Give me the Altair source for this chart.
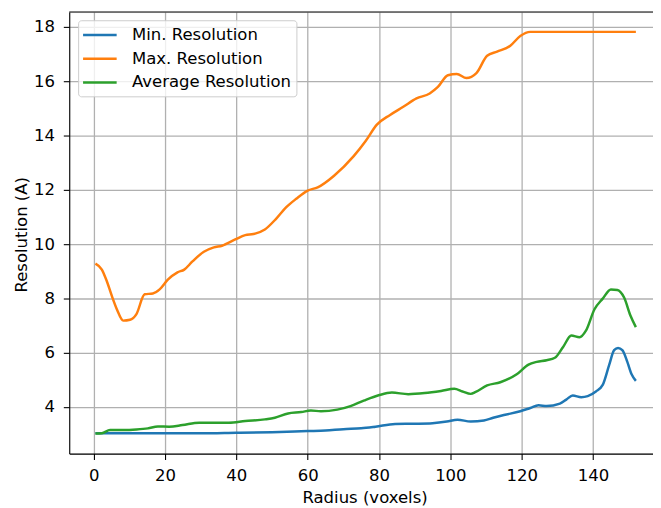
import altair as alt
import pandas as pd

# ---- data ----
series_names = ["Min. Resolution", "Max. Resolution", "Average Resolution"]
series_colors = ["#1f77b4", "#ff7f0e", "#2ca02c"]

min_x = [0.5, 10, 20, 30, 40, 50, 60, 65, 70, 75, 79, 84.5, 90, 95, 99, 102, 105.7, 109.4,
         112, 115, 119.6, 122.4, 124.7, 127, 130.7, 132.5, 134.3, 136.7, 138.5, 140.8, 142.7,
         144.5, 145.9, 147.0, 148.2, 149.6, 150.8, 152]
min_y = [3.03, 3.03, 3.03, 3.03, 3.05, 3.07, 3.11, 3.13, 3.18, 3.21, 3.27, 3.37, 3.38, 3.40,
         3.46, 3.53, 3.46, 3.50, 3.60, 3.70, 3.84, 3.96, 4.06, 4.03, 4.12, 4.27, 4.42, 4.36,
         4.40, 4.57, 4.81, 5.54, 6.09, 6.17, 6.09, 5.66, 5.20, 4.96]

max_x = [0.5, 2.3, 3.7, 5.1, 6.5, 8.3, 10.2, 12.0, 14.3, 16.6, 18.5, 20.8, 23.5, 25.4, 27.7,
         30.9, 33.7, 36.0, 39.7, 42.5, 44.8, 48.0, 51.2, 54.0, 56.8, 60.0, 62.8, 67.4, 72.9,
         76.2, 79.4, 83.1, 86.8, 90.5, 94.2, 96.5, 99.3, 101.8, 104.5, 107.3, 110.3, 113.1,
         116.8, 119.6, 122.4, 125, 152]
max_y = [9.28, 9.06, 8.63, 8.09, 7.6, 7.18, 7.21, 7.42, 8.15, 8.18, 8.33, 8.69, 8.96, 9.06,
         9.36, 9.72, 9.88, 9.94, 10.17, 10.33, 10.37, 10.54, 10.94, 11.36, 11.67, 11.97, 12.09,
         12.52, 13.24, 13.79, 14.40, 14.76, 15.06, 15.37, 15.55, 15.79, 16.22, 16.27, 16.12,
         16.30, 16.94, 17.09, 17.31, 17.67, 17.82, 17.82, 17.82]

avg_x = [0.5, 2.3, 4.6, 8.3, 12, 15.2, 18, 21.2, 24.9, 29.6, 34.2, 37.9, 42.5, 48, 50.8, 54.5,
         58.2, 60.9, 63.7, 68.3, 72, 75.7, 79.9, 83.6, 88.2, 92.8, 97.4, 101.1, 103.4, 105.7,
         107.1, 110.3, 114, 118.6, 121.9, 124.2, 127, 129.3, 131.6, 133.9, 136.2, 138, 140.4,
         142.7, 145, 146.8, 148.7, 150.5, 152]
avg_y = [3.02, 3.03, 3.15, 3.15, 3.17, 3.21, 3.28, 3.27, 3.33, 3.42, 3.42, 3.42, 3.48, 3.54,
         3.60, 3.76, 3.81, 3.87, 3.84, 3.90, 4.03, 4.23, 4.43, 4.53, 4.47, 4.51, 4.59, 4.67,
         4.57, 4.48, 4.55, 4.79, 4.91, 5.20, 5.56, 5.66, 5.72, 5.81, 6.21, 6.63, 6.57, 6.81,
         7.60, 7.99, 8.33, 8.31, 8.03, 7.36, 6.94]

x_ticks = [0, 20, 40, 60, 80, 100, 120, 140]
y_ticks = [4, 6, 8, 10, 12, 14, 16, 18]
x_domain = [-6.84, 156.8]
y_domain = [2.28, 18.55]

rows = []
for name, xs, ys in [(series_names[0], min_x, min_y),
                     (series_names[1], max_x, max_y),
                     (series_names[2], avg_x, avg_y)]:
    for i, (xv, yv) in enumerate(zip(xs, ys)):
        rows.append({"radius": xv, "res": yv, "series": name, "order": i})
df = pd.DataFrame(rows)

W, H = 591, 447
FONT = "DejaVu Sans"
FS = 16.7

lines = alt.Chart(df).mark_line(strokeWidth=2.5, interpolate="monotone").encode(
    x=alt.X("radius:Q",
            scale=alt.Scale(domain=x_domain, nice=False, zero=False),
            axis=alt.Axis(values=x_ticks, title="Radius (voxels)", grid=True,
                          gridColor="#b0b0b0", gridWidth=1.3, tickSize=6, tickColor="black",
                          tickWidth=1.1, domainColor="black", domainWidth=1.1, labelFont=FONT,
                          labelFontSize=FS, labelColor="black", labelPadding=21,
                          labelBaseline="alphabetic",
                          labelFlush=False, titleFont=FONT, titleFontSize=FS,
                          titleFontWeight="normal", titleColor="black", titleX=299,
                          titleY=49.4, titleAlign="center", titleBaseline="alphabetic")),
    y=alt.Y("res:Q",
            scale=alt.Scale(domain=y_domain, nice=False, zero=False),
            axis=alt.Axis(values=y_ticks, title="Resolution (A)", grid=True,
                          gridColor="#b0b0b0", gridWidth=1.3, tickSize=6, tickColor="black",
                          tickWidth=1.1, domainColor="black", domainWidth=1.1, labelFont=FONT,
                          labelFontSize=FS, labelColor="black", labelPadding=9,
                          titleFont=FONT, titleFontSize=FS, titleFontWeight="normal",
                          titleColor="black", titleAngle=270, titleX=-43.6, titleY=225,
                          titleAlign="center", titleBaseline="alphabetic")),
    color=alt.Color("series:N",
                    scale=alt.Scale(domain=series_names, range=series_colors),
                    sort=series_names,
                    legend=alt.Legend(orient="none", legendX=9, legendY=8.3, title=None,
                                      symbolType="M-2,0L2,0", symbolSize=289,
                                      symbolStrokeWidth=2.5, symbolOffset=7,
                                      labelOffset=22.5, rowPadding=5, padding=5,
                                      labelLimit=400,
                                      fillColor="rgba(255,255,255,0.8)",
                                      strokeColor="#cccccc", cornerRadius=3,
                                      labelFont=FONT, labelFontSize=FS,
                                      labelColor="black")),
    detail="series:N",
    order="order:Q",
)

frame_top = alt.Chart(pd.DataFrame({"a": [0]})).mark_rule(color="black", strokeWidth=1.1).encode(
    x=alt.value(0), x2=alt.value(W), y=alt.value(0)
)

chart = alt.layer(lines, frame_top).properties(
    width=W, height=H,
    autosize=alt.AutoSizeParams(type="none"),
    padding={"left": 62, "top": 1, "right": 0, "bottom": 55},
).configure_view(stroke=None).configure(background="white")

chart.save("out.html", embed_options={"renderer": "svg", "actions": False})
